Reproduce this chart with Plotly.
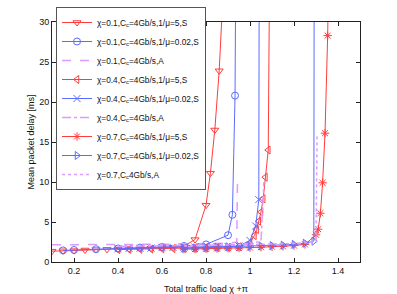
import plotly.graph_objects as go

# ---------------- data ----------------
x_s1 = [0.1, 0.15, 0.2, 0.25, 0.3, 0.35, 0.4, 0.45, 0.5, 0.55, 0.6, 0.65, 0.7, 0.75, 0.8, 0.82, 0.84, 0.86, 0.88]
y_s1 = [1.35, 1.4, 1.42, 1.5, 1.55, 1.58, 1.62, 1.65, 1.7, 1.72, 1.78, 1.85, 2.0, 2.8, 7.1, 11.1, 16.5, 23.9, 35]

x_s2 = [0.15, 0.2, 0.3, 0.4, 0.5, 0.6, 0.7, 0.8, 0.9, 0.92, 0.932, 0.936]
y_s2 = [1.45, 1.5, 1.6, 1.7, 1.8, 1.9, 2.0, 2.2, 3.35, 5.9, 20.8, 40]

x_s3 = [0.1, 0.2, 0.3, 0.4, 0.5, 0.6, 0.7, 0.8, 0.9, 0.94, 0.943]
y_s3 = [2.15, 2.15, 2.16, 2.18, 2.2, 2.22, 2.25, 2.3, 2.35, 2.5, 10.2]

x_s4 = [0.4, 0.45, 0.5, 0.55, 0.6, 0.65, 0.7, 0.75, 0.8, 0.85, 0.9, 0.95, 1.0, 1.02, 1.03, 1.04, 1.05, 1.06, 1.07, 1.083, 1.09]
y_s4 = [1.55, 1.58, 1.6, 1.62, 1.65, 1.68, 1.7, 1.72, 1.75, 1.78, 1.82, 1.9, 2.4, 3.3, 4.05, 5.1, 6.25, 7.9, 10.6, 14.0, 40]

x_s5 = [0.4, 0.45, 0.5, 0.55, 0.6, 0.65, 0.7, 0.75, 0.8, 0.85, 0.9, 0.95, 1.0, 1.026, 1.04, 1.042]
y_s5 = [1.65, 1.7, 1.72, 1.75, 1.8, 1.82, 1.85, 1.88, 1.9, 1.92, 1.95, 2.0, 2.7, 4.5, 7.8, 40]

x_s6 = [0.4, 0.5, 0.6, 0.7, 0.8, 0.9, 1.0, 1.05, 1.063]
y_s6 = [1.95, 1.97, 2.0, 2.05, 2.1, 2.15, 2.3, 2.6, 10.0]

x_s7 = [0.7, 0.75, 0.8, 0.85, 0.9, 0.95, 1.0, 1.05, 1.1, 1.15, 1.2, 1.25, 1.3, 1.31, 1.32, 1.33, 1.341, 1.353, 1.36]
y_s7 = [1.6, 1.62, 1.65, 1.7, 1.72, 1.75, 1.8, 1.85, 1.9, 1.95, 2.05, 2.2, 3.4, 4.1, 6.1, 9.9, 16.1, 28.3, 40]

x_s8 = [0.7, 0.75, 0.8, 0.85, 0.9, 0.95, 1.0, 1.05, 1.1, 1.15, 1.2, 1.25, 1.29, 1.292]
y_s8 = [1.7, 1.75, 1.8, 1.85, 1.9, 1.92, 1.95, 2.0, 2.05, 2.1, 2.2, 2.35, 2.6, 40]

x_s9 = [0.7, 0.8, 0.9, 1.0, 1.1, 1.2, 1.25, 1.3, 1.305]
y_s9 = [2.0, 2.05, 2.1, 2.15, 2.2, 2.3, 2.4, 2.6, 16.1]

names = [
    "χ=0.1,C<sub>c</sub>=4Gb/s,1/μ=5,S",
    "χ=0.1,C<sub>c</sub>=4Gb/s,1/μ=0.02,S",
    "χ=0.1,C<sub>c</sub>=4Gb/s,A",
    "χ=0.4,C<sub>c</sub>=4Gb/s,1/μ=5,S",
    "χ=0.4,C<sub>c</sub>=4Gb/s,1/μ=0.02,S",
    "χ=0.4,C<sub>c</sub>=4Gb/s,A",
    "χ=0.7,C<sub>c</sub>=4Gb/s,1/μ=5,S",
    "χ=0.7,C<sub>c</sub>=4Gb/s,1/μ=0.02,S",
    "χ=0.7,C<sub>c</sub>4Gb/s,A",
]

x_ticks = [0.2, 0.4, 0.6, 0.8, 1.0, 1.2, 1.4]
x_ticklabels = ["0.2", "0.4", "0.6", "0.8", "1", "1.2", "1.4"]
y_ticks = [0, 5, 10, 15, 20, 25, 30]

RED = "#ff3c3c"
BLUE = "#5c6cff"
MAG = "#dc9cff"

series = [
    (x_s1, y_s1, RED, "solid", "triangle-down-open"),
    (x_s2, y_s2, BLUE, "solid", "circle-open"),
    (x_s3, y_s3, MAG, "dash", None),
    (x_s4, y_s4, RED, "solid", "triangle-left-open"),
    (x_s5, y_s5, BLUE, "solid", "x-thin-open"),
    (x_s6, y_s6, MAG, "dashdot", None),
    (x_s7, y_s7, RED, "solid", "asterisk-open"),
    (x_s8, y_s8, BLUE, "solid", "triangle-right-open"),
    (x_s9, y_s9, MAG, "dot", None),
]

fig = go.Figure()
for (xs, ys, col, dash, sym), nm in zip(series, names):
    if sym:
        fig.add_trace(go.Scatter(
            x=xs, y=ys, name=nm, mode="lines+markers",
            line=dict(color=col, width=1, dash=dash),
            marker=dict(symbol=sym, size=7, color=col, line=dict(color=col, width=1)),
        ))
    else:
        fig.add_trace(go.Scatter(
            x=xs, y=ys, name=nm, mode="lines",
            line=dict(color=col, width=1.5, dash=dash),
        ))

FONT = "Liberation Sans, Arial, sans-serif"
axis_common = dict(
    showline=True, linecolor="#222", linewidth=1, mirror="ticks",
    ticks="inside", ticklen=4, tickcolor="#222", showgrid=False, zeroline=False,
    tickfont=dict(size=9, color="#111", family=FONT),
)

# plot area: x 52..360 px, y 22..262 px ; top margin 7 so legend (top 7px) sits at paper y=1
fig.update_layout(
    width=397, height=294,
    margin=dict(l=52, r=37, t=7, b=32, autoexpand=False),
    paper_bgcolor="white", plot_bgcolor="white",
    font=dict(family=FONT, size=9, color="#111"),
    xaxis=dict(range=[0.1, 1.5], tickvals=x_ticks, ticktext=x_ticklabels, automargin=False,
               title=dict(text="Total traffic load χ +π", font=dict(size=9)), **axis_common),
    yaxis=dict(range=[0, 30], tickvals=y_ticks, domain=[0, 240 / 255], automargin=True,
               title=dict(text="Mean packet delay [ms]", font=dict(size=9), standoff=3), **axis_common),
    legend=dict(x=0.013, y=1.0, xanchor="left", yanchor="top",
                bgcolor="white", bordercolor="#555", borderwidth=1,
                font=dict(size=8.3, family=FONT), itemwidth=30, tracegroupgap=0,
                maxheight=400),
    showlegend=True,
)

fig.write_html("out.html", config={"displayModeBar": False},
               post_script="document.body.style.margin='0';document.body.style.padding='0';")
